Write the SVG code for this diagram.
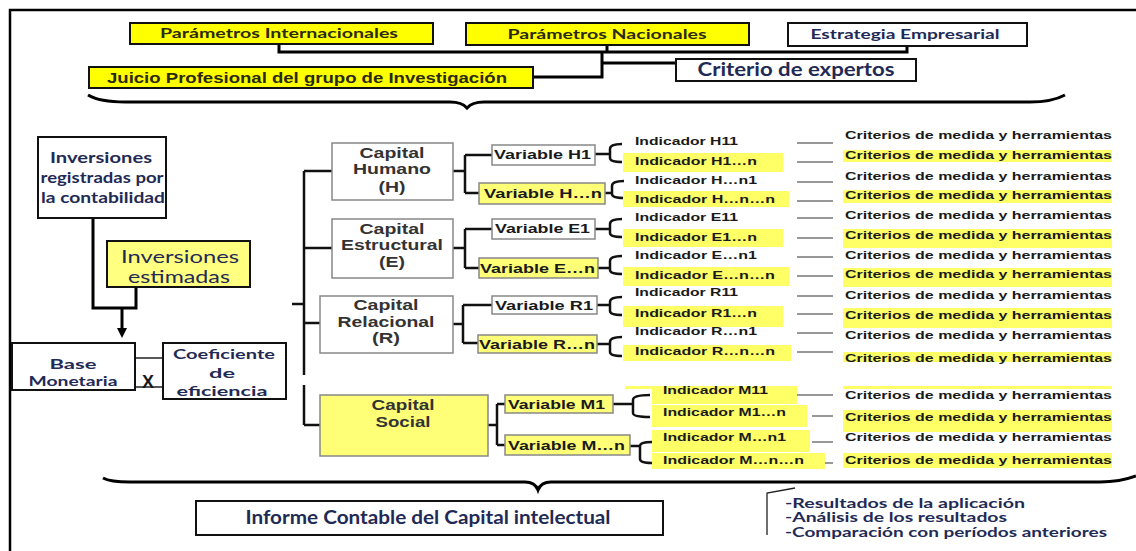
<svg xmlns="http://www.w3.org/2000/svg" width="1136" height="551" viewBox="0 0 1136 551">
<style>
.frame{fill:none;stroke:#000;stroke-width:2.5}
.ybox{fill:#ffff00;stroke:#111;stroke-width:2}
.wbox{fill:#fff;stroke:#111;stroke-width:2}
.gbox{fill:#fff;stroke:#888;stroke-width:1.5}
.lybox{fill:#ffff77;stroke:#888;stroke-width:1.5}
.hl{fill:#ffff66}
.ln{fill:none;stroke:#000;stroke-width:3}
.ln2{fill:none;stroke:#111;stroke-width:2.5}
.thin{fill:none;stroke:#222;stroke-width:1.3}
.dash{fill:none;stroke:#777;stroke-width:1.5}
.ar{font-family:"Liberation Sans",Arial,sans-serif;font-weight:bold;fill:#1a1a1a}
.cal{font-family:Lato,"Liberation Sans",sans-serif;font-weight:bold;fill:#1f2a55}
.cap{font-size:14px;fill:#333;text-anchor:middle}
.var{font-size:12.5px}
.ind{font-size:11px}
.crit{font-size:11px}
</style>
<defs>
<marker id="arrow" markerWidth="10" markerHeight="10" refX="5" refY="5" orient="auto" markerUnits="userSpaceOnUse">
<path d="M0,0 L10,5 L0,10 z" fill="#000"/>
</marker>
</defs>
<rect width="1136" height="551" fill="#fff"/>
<path class="frame" d="M10,551 L10,10 L1136,10"/>

<g id="connectors">
<path class="ln" d="M279,44 V52 H907 V46"/>
<path class="ln" d="M607,45 V52"/>
<path class="ln" d="M602,52 V77 H533"/>
<path class="ln" d="M602,63 H676"/>
<path class="ln" d="M88,95 Q100,102 125,102 L450,102 Q462,102 467,108 Q472,102 484,102 L1030,102 Q1052,102 1065,95"/>
<path class="ln" d="M93,218 V308 H136 V287"/>
<path class="ln" d="M122,308 V333" marker-end="url(#arrow)"/>
<path class="thin" d="M135,358 H163 M135,387 H163"/>
<path class="ln2" d="M304,171 V375 M304,385 V425 M292,304 H304"/>
<path class="ln2" d="M304,171 H332 M304,248 H332 M304,323 H320 M304,425 H320"/>
<path class="ln2" d="M453,171 H465 M465,155 V193 M465,155 H492 M465,193 H479"/>
<path class="ln2" d="M453,248 H465 M465,229 V268 M465,229 H492 M465,268 H479"/>
<path class="ln2" d="M453,324 H463 M463,305 V343 M463,305 H492 M463,343 H478"/>
<path class="ln2" d="M488,425 H497 M497,404 V445 M497,404 H505 M497,445 H505"/>
<path class="ln2" d="M595,154 H610 M622,144 Q610,144 610,149 V158 Q610,162 622,162"/>
<path class="ln2" d="M605,193 H612 M624,181 Q612,181 612,186 V194 Q612,198 624,198"/>
<path class="ln2" d="M595,229 H610 M622,219 Q610,219 610,224 V233 Q610,237 622,237"/>
<path class="ln2" d="M598,268 H610 M622,256 Q610,256 610,261 V270 Q610,274 622,274"/>
<path class="ln2" d="M597,305 H610 M622,297 Q610,297 610,302 V311 Q610,315 622,315"/>
<path class="ln2" d="M597,344 H610 M622,337 Q610,337 610,342 V352 Q610,356 622,356"/>
<path class="ln2" d="M613,404 H633 M650,395 Q633,395 633,400 V413 Q633,417 650,417"/>
<path class="ln2" d="M630,446 H640 M652,442 Q640,442 640,446 V459 Q640,463 652,463"/>
<path class="dash" d="M797,143 H833 M797,162 H833 M797,182 H833 M797,201 H833 M797,218 H833 M797,238 H833 M797,257 H833 M797,276 H833 M797,296 H833 M797,314 H833 M797,333 H833 M797,352 H833 M797,395 H833 M812,416 H833 M812,442 H833 M817,463 H833"/>
<path class="ln" d="M103,478 Q110,482 130,482 L525,482 Q535,482 538,490 Q541,482 551,482 L1100,482 Q1120,482 1136,476"/>
<path class="thin" d="M767,535 V493 L795,488"/>
</g>

<g id="top-params">
<g id="n-param-int"><rect class="ybox" x="130" y="23" width="303" height="21"/><text class="cal" x="279" y="38" font-size="14" text-anchor="middle" textLength="238" lengthAdjust="spacingAndGlyphs" style="fill:#2a2a10">Parámetros Internacionales</text></g>
<g id="n-param-nac"><rect class="ybox" x="466" y="23" width="283" height="22"/><text class="cal" x="607" y="39" font-size="14" text-anchor="middle" textLength="199" lengthAdjust="spacingAndGlyphs" style="fill:#2a2a10">Parámetros Nacionales</text></g>
<g id="n-estrategia"><rect class="wbox" x="788" y="23" width="239" height="23"/><text class="cal" x="905" y="39" font-size="14" text-anchor="middle" textLength="189" lengthAdjust="spacingAndGlyphs">Estrategia Empresarial</text></g>
<g id="n-juicio"><rect class="ybox" x="89" y="67" width="444" height="21"/><text class="ar" x="307" y="83" font-size="14" text-anchor="middle" textLength="400" lengthAdjust="spacingAndGlyphs" style="fill:#2a2a10">Juicio Profesional  del  grupo de  Investigación</text></g>
<g id="n-criterio"><rect class="wbox" x="676" y="59" width="240" height="22"/><text class="cal" x="796" y="76" font-size="18" text-anchor="middle" textLength="197" lengthAdjust="spacingAndGlyphs">Criterio de expertos</text></g>
</g>

<g id="n-inv-reg"><rect class="wbox" x="38" y="137" width="128" height="81"/>
<text class="cal" font-size="15" text-anchor="middle"><tspan x="101" y="163" textLength="102" lengthAdjust="spacingAndGlyphs">Inversiones</tspan><tspan x="102" y="183" textLength="123" lengthAdjust="spacingAndGlyphs">registradas por</tspan><tspan x="103" y="203" textLength="124" lengthAdjust="spacingAndGlyphs">la contabilidad</tspan></text></g>
<g id="n-inv-est"><rect class="ybox" x="107" y="241" width="143" height="46" style="fill:#ffff80"/>
<text class="cal" font-size="18" text-anchor="middle" style="font-weight:400"><tspan x="180" y="263" textLength="118" lengthAdjust="spacingAndGlyphs">Inversiones</tspan><tspan x="179" y="283" textLength="102" lengthAdjust="spacingAndGlyphs">estimadas</tspan></text></g>
<g id="n-base"><rect class="wbox" x="12" y="343" width="123" height="47"/>
<text class="cal" font-size="14" text-anchor="middle"><tspan x="73" y="369" textLength="47" lengthAdjust="spacingAndGlyphs">Base</tspan><tspan x="73" y="386" textLength="89" lengthAdjust="spacingAndGlyphs">Monetaria</tspan></text></g>
<g id="n-x"><text class="ar" x="148" y="388" font-size="18" text-anchor="middle">X</text></g>
<g id="n-coef"><rect class="wbox" x="163" y="343" width="123" height="56"/>
<text class="cal" font-size="14" text-anchor="middle"><tspan x="224" y="359" textLength="102" lengthAdjust="spacingAndGlyphs">Coeficiente</tspan><tspan x="222" y="378" textLength="26" lengthAdjust="spacingAndGlyphs">de</tspan><tspan x="222" y="396" textLength="91" lengthAdjust="spacingAndGlyphs">eficiencia</tspan></text></g>

<g id="n-cap-h"><rect class="gbox" x="332" y="143" width="121" height="57"/>
<text class="ar cap"><tspan x="392" y="158" textLength="65" lengthAdjust="spacingAndGlyphs">Capital</tspan><tspan x="392" y="174" textLength="78" lengthAdjust="spacingAndGlyphs">Humano</tspan><tspan x="392" y="192" textLength="27" lengthAdjust="spacingAndGlyphs">(H)</tspan></text></g>
<g id="n-cap-e"><rect class="gbox" x="332" y="219" width="121" height="59"/>
<text class="ar cap"><tspan x="392" y="234" textLength="65" lengthAdjust="spacingAndGlyphs">Capital</tspan><tspan x="392" y="250" textLength="102" lengthAdjust="spacingAndGlyphs">Estructural</tspan><tspan x="392" y="267" textLength="26" lengthAdjust="spacingAndGlyphs">(E)</tspan></text></g>
<g id="n-cap-r"><rect class="gbox" x="320" y="296" width="133" height="57"/>
<text class="ar cap"><tspan x="386" y="310" textLength="65" lengthAdjust="spacingAndGlyphs">Capital</tspan><tspan x="386" y="327" textLength="97" lengthAdjust="spacingAndGlyphs">Relacional</tspan><tspan x="386" y="343" textLength="28" lengthAdjust="spacingAndGlyphs">(R)</tspan></text></g>
<g id="n-cap-s"><rect class="lybox" x="320" y="395" width="168" height="61"/>
<text class="ar cap"><tspan x="403" y="410" textLength="63" lengthAdjust="spacingAndGlyphs">Capital</tspan><tspan x="403" y="427" textLength="55" lengthAdjust="spacingAndGlyphs">Social</tspan></text></g>

<g id="n-var-h1"><rect class="gbox" x="492" y="145" width="103" height="20"/><text class="ar var" x="494" y="159" textLength="97" lengthAdjust="spacingAndGlyphs">Variable H1</text></g>
<g id="n-var-hn"><rect class="lybox" x="479" y="183" width="126" height="21"/><text class="ar var" x="484" y="198" textLength="118" lengthAdjust="spacingAndGlyphs">Variable H…n</text></g>
<g id="n-var-e1"><rect class="gbox" x="492" y="219" width="103" height="20"/><text class="ar var" x="495" y="233" textLength="95" lengthAdjust="spacingAndGlyphs">Variable E1</text></g>
<g id="n-var-en"><rect class="lybox" x="479" y="258" width="119" height="20"/><text class="ar var" x="480" y="273" textLength="115" lengthAdjust="spacingAndGlyphs">Variable E…n</text></g>
<g id="n-var-r1"><rect class="gbox" x="492" y="296" width="105" height="18"/><text class="ar var" x="495" y="310" textLength="98" lengthAdjust="spacingAndGlyphs">Variable R1</text></g>
<g id="n-var-rn"><rect class="lybox" x="478" y="335" width="119" height="18"/><text class="ar var" x="479" y="349" textLength="116" lengthAdjust="spacingAndGlyphs">Variable R…n</text></g>
<g id="n-var-m1"><rect class="lybox" x="505" y="395" width="108" height="18"/><text class="ar var" x="508" y="409" textLength="97" lengthAdjust="spacingAndGlyphs">Variable M1</text></g>
<g id="n-var-mn"><rect class="lybox" x="505" y="435" width="125" height="20"/><text class="ar var" x="508" y="450" textLength="117" lengthAdjust="spacingAndGlyphs">Variable M…n</text></g>

<g id="indicators">
<rect class="hl" x="623" y="153" width="160" height="19"/>
<rect class="hl" x="623" y="191" width="166" height="16"/>
<rect class="hl" x="623" y="229" width="160" height="18"/>
<rect class="hl" x="623" y="267" width="166" height="19"/>
<rect class="hl" x="623" y="306" width="160" height="21"/>
<rect class="hl" x="623" y="345" width="168" height="16"/>
<rect class="hl" x="625" y="386" width="172" height="3"/>
<rect class="hl" x="652" y="386" width="145" height="18"/>
<rect class="hl" x="652" y="405" width="155" height="22"/>
<rect class="hl" x="652" y="430" width="158" height="22"/>
<rect class="hl" x="652" y="453" width="173" height="16"/>
<g class="ar ind">
<text x="635" y="145" textLength="103" lengthAdjust="spacingAndGlyphs">Indicador H11</text>
<text x="635" y="165" textLength="122" lengthAdjust="spacingAndGlyphs">Indicador H1…n</text>
<text x="635" y="184" textLength="122" lengthAdjust="spacingAndGlyphs">Indicador H…n1</text>
<text x="635" y="203" textLength="140" lengthAdjust="spacingAndGlyphs">Indicador H…n…n</text>
<text x="635" y="221" textLength="103" lengthAdjust="spacingAndGlyphs">Indicador E11</text>
<text x="635" y="241" textLength="122" lengthAdjust="spacingAndGlyphs">Indicador E1…n</text>
<text x="635" y="259" textLength="122" lengthAdjust="spacingAndGlyphs">Indicador E…n1</text>
<text x="635" y="279" textLength="140" lengthAdjust="spacingAndGlyphs">Indicador E…n…n</text>
<text x="635" y="296" textLength="103" lengthAdjust="spacingAndGlyphs">Indicador R11</text>
<text x="635" y="317" textLength="122" lengthAdjust="spacingAndGlyphs">Indicador R1…n</text>
<text x="635" y="335" textLength="122" lengthAdjust="spacingAndGlyphs">Indicador R…n1</text>
<text x="635" y="355" textLength="140" lengthAdjust="spacingAndGlyphs">Indicador R…n…n</text>
<text x="663" y="394" textLength="105" lengthAdjust="spacingAndGlyphs">Indicador M11</text>
<text x="663" y="416" textLength="123" lengthAdjust="spacingAndGlyphs">Indicador M1…n</text>
<text x="663" y="441" textLength="123" lengthAdjust="spacingAndGlyphs">Indicador M…n1</text>
<text x="663" y="464" textLength="141" lengthAdjust="spacingAndGlyphs">Indicador M…n…n</text>
</g>
</g>

<g id="criteria">
<rect class="hl" x="843" y="150" width="269" height="12"/>
<rect class="hl" x="843" y="190" width="269" height="13"/>
<rect class="hl" x="843" y="229" width="269" height="19"/>
<rect class="hl" x="843" y="268" width="269" height="19"/>
<rect class="hl" x="843" y="308" width="269" height="20"/>
<rect class="hl" x="843" y="352" width="269" height="10"/>
<rect class="hl" x="843" y="386" width="269" height="3"/>
<rect class="hl" x="843" y="410" width="269" height="22"/>
<rect class="hl" x="843" y="453" width="269" height="15"/>
<g class="ar crit">
<text x="845" y="139" textLength="267" lengthAdjust="spacingAndGlyphs">Criterios de medida  y  herramientas</text>
<text x="845" y="159" textLength="267" lengthAdjust="spacingAndGlyphs">Criterios de medida  y  herramientas</text>
<text x="845" y="180" textLength="267" lengthAdjust="spacingAndGlyphs">Criterios de medida  y  herramientas</text>
<text x="845" y="199" textLength="267" lengthAdjust="spacingAndGlyphs">Criterios de medida  y  herramientas</text>
<text x="845" y="219" textLength="267" lengthAdjust="spacingAndGlyphs">Criterios de medida  y  herramientas</text>
<text x="845" y="239" textLength="267" lengthAdjust="spacingAndGlyphs">Criterios de medida  y  herramientas</text>
<text x="845" y="259" textLength="267" lengthAdjust="spacingAndGlyphs">Criterios de medida  y  herramientas</text>
<text x="845" y="278" textLength="267" lengthAdjust="spacingAndGlyphs">Criterios de medida  y  herramientas</text>
<text x="845" y="299" textLength="267" lengthAdjust="spacingAndGlyphs">Criterios de medida  y  herramientas</text>
<text x="845" y="319" textLength="267" lengthAdjust="spacingAndGlyphs">Criterios de medida  y  herramientas</text>
<text x="845" y="339" textLength="267" lengthAdjust="spacingAndGlyphs">Criterios de medida  y  herramientas</text>
<text x="845" y="362" textLength="267" lengthAdjust="spacingAndGlyphs">Criterios de medida  y  herramientas</text>
<text x="845" y="399" textLength="267" lengthAdjust="spacingAndGlyphs">Criterios de medida  y  herramientas</text>
<text x="845" y="421" textLength="267" lengthAdjust="spacingAndGlyphs">Criterios de medida  y  herramientas</text>
<text x="845" y="441" textLength="267" lengthAdjust="spacingAndGlyphs">Criterios de medida  y  herramientas</text>
<text x="845" y="464" textLength="267" lengthAdjust="spacingAndGlyphs">Criterios de medida  y  herramientas</text>
</g>
</g>

<g id="n-informe"><rect class="wbox" x="196" y="501" width="467" height="34"/><text class="cal" x="428" y="524" font-size="19" text-anchor="middle" textLength="365" lengthAdjust="spacingAndGlyphs">Informe Contable del Capital intelectual</text></g>
<g id="n-resultados">
<text class="cal" font-size="13"><tspan x="785" y="508" textLength="240" lengthAdjust="spacingAndGlyphs">-Resultados de la aplicación</tspan><tspan x="785" y="522" textLength="222" lengthAdjust="spacingAndGlyphs">-Análisis de los resultados</tspan><tspan x="785" y="537" textLength="322" lengthAdjust="spacingAndGlyphs">-Comparación con períodos anteriores</tspan></text>
</g>
</svg>
